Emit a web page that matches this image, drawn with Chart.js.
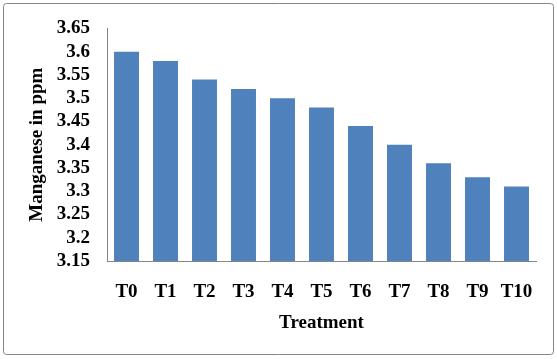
<!DOCTYPE html>
<html>
<head>
<meta charset="utf-8">
<script src="https://cdn.jsdelivr.net/npm/chart.js@4/dist/chart.umd.min.js"></script>
<style>
  html, body { margin: 0; padding: 0; background: #fff; }
  #wrap { width: 557px; height: 359px; position: relative; }
</style>
</head>
<body>
<div id="wrap"><canvas id="c" width="557" height="359"></canvas></div>
<script>
const categories = ["T0", "T1", "T2", "T3", "T4", "T5", "T6", "T7", "T8", "T9", "T10"];
const manganese = [3.60, 3.58, 3.54, 3.52, 3.50, 3.48, 3.44, 3.40, 3.36, 3.33, 3.31];
const yMin = 3.15, yMax = 3.65, yStep = 0.05;
const xTitle = "Treatment";
const yTitle = "Manganese in ppm";

const borderPlugin = {
  id: 'outerBorder',
  beforeDraw(chart) {
    const ctx = chart.ctx;
    ctx.save();
    ctx.fillStyle = '#fff';
    ctx.fillRect(0, 0, chart.width, chart.height);
    ctx.strokeStyle = '#868686';
    ctx.lineWidth = 1;
    const x = 3.5, y = 3.5, w = 550, h = 351, r = 3;
    ctx.beginPath();
    ctx.moveTo(x + r, y);
    ctx.lineTo(x + w - r, y);
    ctx.arcTo(x + w, y, x + w, y + r, r);
    ctx.lineTo(x + w, y + h - r);
    ctx.arcTo(x + w, y + h, x + w - r, y + h, r);
    ctx.lineTo(x + r, y + h);
    ctx.arcTo(x, y + h, x, y + h - r, r);
    ctx.lineTo(x, y + r);
    ctx.arcTo(x, y, x + r, y, r);
    ctx.closePath();
    ctx.stroke();
    ctx.restore();
  }
};

const serifBold = (size) => ({ family: '"Liberation Serif", "Times New Roman", serif', weight: 'bold', size });

new Chart(document.getElementById('c'), {
  type: 'bar',
  data: {
    labels: categories,
    datasets: [{
      data: manganese,
      backgroundColor: '#4F81BD',
      borderWidth: 0,
      barPercentage: 0.64,
      categoryPercentage: 1.0
    }]
  },
  options: {
    responsive: false,
    animation: false,
    events: [],
    layout: { padding: { left: 26, top: 22, right: 21, bottom: 25 } },
    plugins: { legend: { display: false }, tooltip: { enabled: false } },
    scales: {
      x: {
        grid: { display: false, drawTicks: false },
        border: { display: true, color: '#868686', width: 1 },
        ticks: { color: '#000', font: serifBold(19), padding: 20, maxRotation: 0, autoSkip: false },
        title: { display: true, text: xTitle, color: '#000', font: serifBold(19), padding: { top: 0, bottom: 0 } },
        afterFit(scale) { scale.height = 73; }
      },
      y: {
        min: yMin, max: yMax,
        grid: { display: false, drawTicks: false },
        border: { display: true, color: '#868686', width: 1 },
        ticks: {
          stepSize: yStep,
          autoSkip: false,
          color: '#000',
          font: serifBold(19),
          padding: 17,
          callback: (v) => String(parseFloat(v.toFixed(2)))
        },
        title: { display: true, text: yTitle, color: '#000', font: serifBold(19), padding: { top: 0, bottom: 0 } },
        afterFit(scale) { scale.width = 81; }
      }
    }
  },
  plugins: [borderPlugin]
});
</script>
</body>
</html>
